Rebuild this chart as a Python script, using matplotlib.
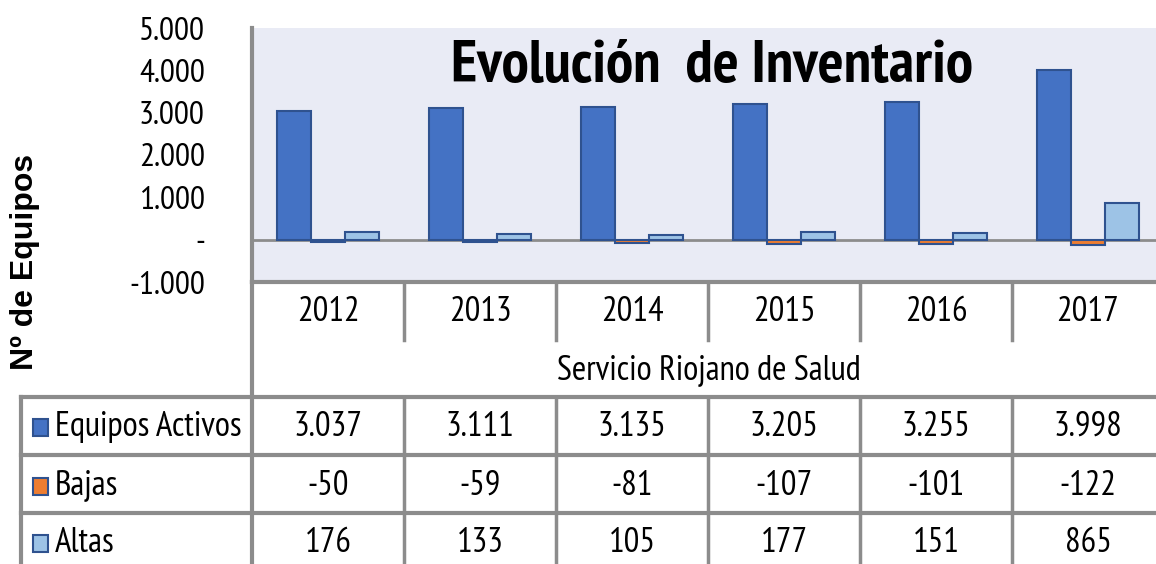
import matplotlib
matplotlib.use('Agg')
import matplotlib.pyplot as plt
from matplotlib.transforms import blended_transform_factory
from matplotlib.patches import Rectangle

years = ['2012', '2013', '2014', '2015', '2016', '2017']
activos = [3037, 3111, 3135, 3205, 3255, 3998]
bajas = [-50, -59, -81, -107, -101, -122]
altas = [176, 133, 105, 177, 151, 865]
series_names = ['Equipos Activos', 'Bajas', 'Altas']
colors = ['#4472C4', '#ED7D31', '#9DC3E6']
yticks = [-1000, 0, 1000, 2000, 3000, 4000, 5000]

narrow = ['PT Sans Narrow', 'DejaVu Sans']

W, H = 1156, 564
fig = plt.figure(figsize=(W / 100, H / 100), dpi=100)

def fy(py):
    return 1 - py / H

def fx(px):
    return px / W

def fmt(v):
    return f'{v:,}'.replace(',', '.')

# plot area
ax = fig.add_axes([fx(252), fy(282), fx(912), (282 - 28) / H])
ax.set_facecolor('#E9EBF5')
ax.set_xlim(0, 6)
ax.set_ylim(-1000, 5000)

bw = 34 / 152
edge = '#2F528F'
x = [i + 0.5 for i in range(len(years))]
for k, vals in enumerate([activos, bajas, altas]):
    ax.bar([xi + (k - 1) * bw for xi in x], vals, width=bw, color=colors[k],
           edgecolor=edge, linewidth=1.5, zorder=3)
ax.axhline(0, color='#8C8C8C', lw=2, zorder=2)

ax.set_yticks(yticks)
ax.set_yticklabels(['-' if v == 0 else fmt(v) for v in yticks],
                   fontsize=24, family=narrow)
ax.tick_params(axis='y', length=0, pad=34)
ax.set_xticks([])
for s in ['top', 'right']:
    ax.spines[s].set_visible(False)
for s in ['left', 'bottom']:
    ax.spines[s].set_color('#8C8C8C')
    ax.spines[s].set_linewidth(3)

ax.text(0.504, 0.845, 'Evolución  de Inventario', transform=ax.transAxes,
        ha='center', va='center', fontsize=44, fontweight='bold', family=narrow,
        zorder=5)

# data table
ov = fig.add_axes([0, 0, 1, 1], facecolor='none')
ov.set_xlim(0, W)
ov.set_ylim(H, 0)
ov.axis('off')
lc = '#8C8C8C'
col_edges = [252 + 152 * i for i in range(7)]
for cx in col_edges[1:-1]:
    ov.plot([cx, cx], [282, 340], color=lc, lw=2.5)
    ov.plot([cx, cx], [397, H], color=lc, lw=2.5)
ov.plot([252, 252], [282, H], color=lc, lw=3)
ov.plot([21, 21], [397, H], color=lc, lw=3)
for ry in [397, 455, 513]:
    ov.plot([21, W], [ry, ry], color=lc, lw=3)

tr = blended_transform_factory(ax.transData, fig.transFigure)
for i, yr in enumerate(years):
    fig.text(x[i], fy(312), yr, transform=tr, ha='center', va='center',
             fontsize=25, family=narrow)
fig.text(fx(709), fy(371), 'Servicio Riojano de Salud', ha='center', va='center',
         fontsize=25, family=narrow)

row_y = [427, 486, 543]
for k, vals in enumerate([activos, bajas, altas]):
    ov.add_patch(Rectangle((33, row_y[k] - 8), 15, 17, facecolor=colors[k],
                           edgecolor=edge, lw=1.5))
    fig.text(fx(55), fy(row_y[k]), series_names[k], ha='left', va='center',
             fontsize=25, family=narrow)
    for i, v in enumerate(vals):
        fig.text(x[i], fy(row_y[k]), fmt(v), transform=tr,
                 ha='center', va='center', fontsize=25, family=narrow)

fig.text(fx(25), fy(262), 'Nº de Equipos', rotation=90, ha='center', va='center',
         fontsize=23, fontweight='bold', family='Liberation Sans')

fig.savefig('out.png', dpi=100)
